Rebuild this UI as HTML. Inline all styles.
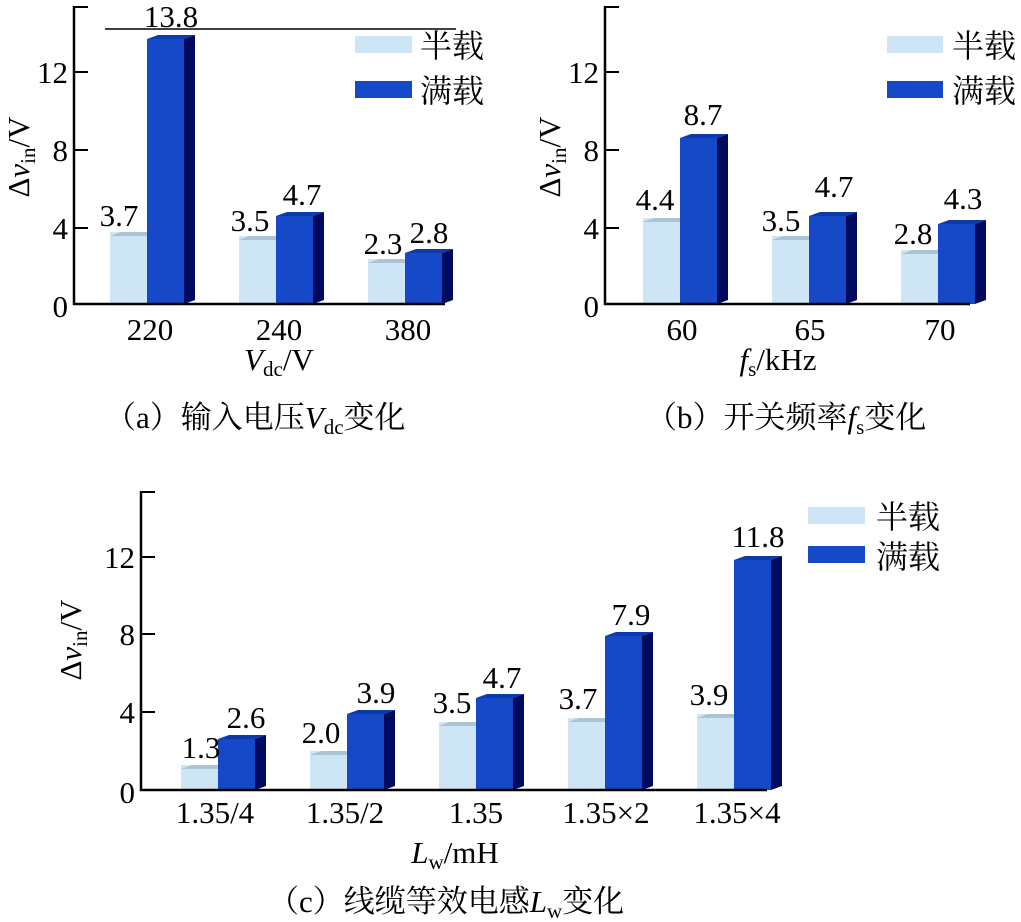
<!DOCTYPE html>
<html><head><meta charset="utf-8"><style>
html,body{margin:0;padding:0;background:#fff;}
svg{display:block;}
text{font-family:"Liberation Serif",serif;fill:#000;}
.t{font-family:"Liberation Serif",serif;font-size:31px;}
.cn{font-family:"Liberation Serif","Noto Serif CJK SC","Noto Sans CJK SC",serif;font-size:32px;}
.cap{font-family:"Liberation Serif","Noto Serif CJK SC","Noto Sans CJK SC",serif;font-size:31px;}
.L{fill:#cde5f5}.LT{fill:#a9c4d4}
.D{fill:#1549c8}.DT{fill:#0c3aa8}.DS{fill:#000a5e}
</style></head><body>
<svg width="1021" height="922" viewBox="0 0 1021 922" xmlns="http://www.w3.org/2000/svg">

<!-- ===== Panel A ===== -->
<g>
<line x1="105" y1="29" x2="456" y2="29" stroke="#000" stroke-width="1.5"/>
<rect class="L" x="110" y="232" width="37" height="72"/><polygon class="LT" points="110,236 121,232 158,232 147,236"/>
<rect class="D" x="147" y="39" width="37" height="265"/><polygon class="DT" points="147,39 158,35 195,35 184,39"/><polygon class="DS" points="184,39 195,35 195,300 184,304"/>
<rect class="L" x="239" y="236" width="37" height="68"/><polygon class="LT" points="239,240 250,236 287,236 276,240"/>
<rect class="D" x="276" y="216" width="37" height="88"/><polygon class="DT" points="276,216 287,212 324,212 313,216"/><polygon class="DS" points="313,216 324,212 324,300 313,304"/>
<rect class="L" x="368" y="259" width="37" height="45"/><polygon class="LT" points="368,263 379,259 416,259 405,263"/>
<rect class="D" x="405" y="253" width="37" height="51"/><polygon class="DT" points="405,253 416,249 453,249 442,253"/><polygon class="DS" points="442,253 453,249 453,300 442,304"/>
<line x1="74" y1="6" x2="74" y2="305" stroke="#000" stroke-width="2.5"/>
<line x1="73" y1="304" x2="445" y2="304" stroke="#000" stroke-width="2.5"/>
<line x1="74" y1="7" x2="88" y2="7" stroke="#000" stroke-width="2"/>
<line x1="74" y1="72" x2="88" y2="72" stroke="#000" stroke-width="2"/>
<line x1="74" y1="150" x2="88" y2="150" stroke="#000" stroke-width="2"/>
<line x1="74" y1="228" x2="88" y2="228" stroke="#000" stroke-width="2"/>
<g class="t" text-anchor="end"><text x="68" y="83">12</text><text x="68" y="161">8</text><text x="68" y="239">4</text><text x="68" y="317">0</text></g>
<text class="t" transform="translate(29,157) rotate(-90)" text-anchor="middle">Δ<tspan font-style="italic">v</tspan><tspan font-size="21" dy="6">in</tspan><tspan dy="-6">/V</tspan></text>
<g class="t" text-anchor="middle">
<text x="119" y="226">3.7</text><text x="171" y="27">13.8</text>
<text x="250" y="231">3.5</text><text x="302" y="205">4.7</text>
<text x="383" y="254">2.3</text><text x="429" y="243">2.8</text>
<text x="150" y="340">220</text><text x="279" y="340">240</text><text x="408" y="340">380</text>
<text x="279" y="370"><tspan font-style="italic">V</tspan><tspan font-size="21" dy="6">dc</tspan><tspan dy="-6">/V</tspan></text>
</g>
<rect class="L" x="355" y="36" width="57" height="17"/><rect class="D" x="355" y="81" width="57" height="17"/>
<text class="cn" x="420" y="57">半载</text><text class="cn" x="420" y="102">满载</text>
<text class="cap" x="105" y="428">（a）输入电压<tspan font-style="italic">V</tspan><tspan font-size="21" dy="6">dc</tspan><tspan dy="-6">变化</tspan></text>
</g>

<!-- ===== Panel B ===== -->
<g>
<rect class="L" x="643" y="218" width="37" height="86"/><polygon class="LT" points="643,222 654,218 691,218 680,222"/>
<rect class="D" x="680" y="138" width="37" height="166"/><polygon class="DT" points="680,138 691,134 728,134 717,138"/><polygon class="DS" points="717,138 728,134 728,300 717,304"/>
<rect class="L" x="772" y="236" width="37" height="68"/><polygon class="LT" points="772,240 783,236 820,236 809,240"/>
<rect class="D" x="809" y="216" width="37" height="88"/><polygon class="DT" points="809,216 820,212 857,212 846,216"/><polygon class="DS" points="846,216 857,212 857,300 846,304"/>
<rect class="L" x="901" y="250" width="37" height="54"/><polygon class="LT" points="901,254 912,250 949,250 938,254"/>
<rect class="D" x="938" y="224" width="37" height="80"/><polygon class="DT" points="938,224 949,220 986,220 975,224"/><polygon class="DS" points="975,224 986,220 986,300 975,304"/>
<line x1="605" y1="6" x2="605" y2="305" stroke="#000" stroke-width="2.5"/>
<line x1="604" y1="304" x2="970" y2="304" stroke="#000" stroke-width="2.5"/>
<line x1="605" y1="7" x2="619" y2="7" stroke="#000" stroke-width="2"/>
<line x1="605" y1="72" x2="619" y2="72" stroke="#000" stroke-width="2"/>
<line x1="605" y1="150" x2="619" y2="150" stroke="#000" stroke-width="2"/>
<line x1="605" y1="228" x2="619" y2="228" stroke="#000" stroke-width="2"/>
<g class="t" text-anchor="end"><text x="599" y="83">12</text><text x="599" y="161">8</text><text x="599" y="239">4</text><text x="599" y="317">0</text></g>
<text class="t" transform="translate(560,157) rotate(-90)" text-anchor="middle">Δ<tspan font-style="italic">v</tspan><tspan font-size="21" dy="6">in</tspan><tspan dy="-6">/V</tspan></text>
<g class="t" text-anchor="middle">
<text x="655" y="210">4.4</text><text x="703" y="125">8.7</text>
<text x="781" y="231">3.5</text><text x="834" y="197">4.7</text>
<text x="913" y="244">2.8</text><text x="963" y="209">4.3</text>
<text x="682" y="340">60</text><text x="810" y="340">65</text><text x="940" y="340">70</text>
<text x="778" y="370"><tspan font-style="italic">f</tspan><tspan font-size="21" dy="6">s</tspan><tspan dy="-6">/kHz</tspan></text>
</g>
<rect class="L" x="887" y="36" width="56" height="17"/><rect class="D" x="887" y="81" width="56" height="17"/>
<text class="cn" x="952" y="57">半载</text><text class="cn" x="952" y="102">满载</text>
<text class="cap" x="646" y="428">（b）开关频率<tspan font-style="italic">f</tspan><tspan font-size="21" dy="6">s</tspan><tspan dy="-6">变化</tspan></text>
</g>

<!-- ===== Panel C ===== -->
<g>
<rect class="L" x="181" y="765" width="37" height="25"/><polygon class="LT" points="181,769 192,765 229,765 218,769"/>
<rect class="D" x="218" y="739" width="37" height="51"/><polygon class="DT" points="218,739 229,735 266,735 255,739"/><polygon class="DS" points="255,739 266,735 266,786 255,790"/>
<rect class="L" x="310" y="751" width="37" height="39"/><polygon class="LT" points="310,755 321,751 358,751 347,755"/>
<rect class="D" x="347" y="714" width="37" height="76"/><polygon class="DT" points="347,714 358,710 395,710 384,714"/><polygon class="DS" points="384,714 395,710 395,786 384,790"/>
<rect class="L" x="439" y="722" width="37" height="68"/><polygon class="LT" points="439,726 450,722 487,722 476,726"/>
<rect class="D" x="476" y="698" width="37" height="92"/><polygon class="DT" points="476,698 487,694 524,694 513,698"/><polygon class="DS" points="513,698 524,694 524,786 513,790"/>
<rect class="L" x="568" y="718" width="37" height="72"/><polygon class="LT" points="568,722 579,718 616,718 605,722"/>
<rect class="D" x="605" y="636" width="37" height="154"/><polygon class="DT" points="605,636 616,632 653,632 642,636"/><polygon class="DS" points="642,636 653,632 653,786 642,790"/>
<rect class="L" x="697" y="714" width="37" height="76"/><polygon class="LT" points="697,718 708,714 745,714 734,718"/>
<rect class="D" x="734" y="560" width="37" height="230"/><polygon class="DT" points="734,560 745,556 782,556 771,560"/><polygon class="DS" points="771,560 782,556 782,786 771,790"/>
<line x1="141" y1="491" x2="141" y2="791" stroke="#000" stroke-width="2.5"/>
<line x1="140" y1="790" x2="767" y2="790" stroke="#000" stroke-width="2.5"/>
<line x1="141" y1="492" x2="155" y2="492" stroke="#000" stroke-width="2"/>
<line x1="141" y1="557" x2="155" y2="557" stroke="#000" stroke-width="2"/>
<line x1="141" y1="634" x2="155" y2="634" stroke="#000" stroke-width="2"/>
<line x1="141" y1="712" x2="155" y2="712" stroke="#000" stroke-width="2"/>
<g class="t" text-anchor="end"><text x="135" y="568">12</text><text x="135" y="645">8</text><text x="135" y="723">4</text><text x="135" y="803">0</text></g>
<text class="t" transform="translate(81,640) rotate(-90)" text-anchor="middle">Δ<tspan font-style="italic">v</tspan><tspan font-size="21" dy="6">in</tspan><tspan dy="-6">/V</tspan></text>
<g class="t" text-anchor="middle">
<text x="201" y="758">1.3</text><text x="246" y="728">2.6</text>
<text x="321" y="743">2.0</text><text x="376" y="703">3.9</text>
<text x="452" y="713">3.5</text><text x="502" y="688">4.7</text>
<text x="578" y="709">3.7</text><text x="631" y="625">7.9</text>
<text x="709" y="705">3.9</text><text x="758" y="547">11.8</text>
<text x="215" y="823">1.35/4</text><text x="345" y="823">1.35/2</text><text x="476" y="823">1.35</text><text x="606" y="823">1.35×2</text><text x="737" y="823">1.35×4</text>
<text x="455" y="863"><tspan font-style="italic">L</tspan><tspan font-size="21" dy="6">w</tspan><tspan dy="-6">/mH</tspan></text>
</g>
<rect class="L" x="808" y="507" width="57" height="17"/><rect class="D" x="808" y="546" width="57" height="17"/>
<text class="cn" x="876" y="528">半载</text><text class="cn" x="876" y="568">满载</text>
<text class="cap" x="268" y="912">（c）线缆等效电感<tspan font-style="italic">L</tspan><tspan font-size="21" dy="6">w</tspan><tspan dy="-6">变化</tspan></text>
</g>
</svg>
</body></html>
